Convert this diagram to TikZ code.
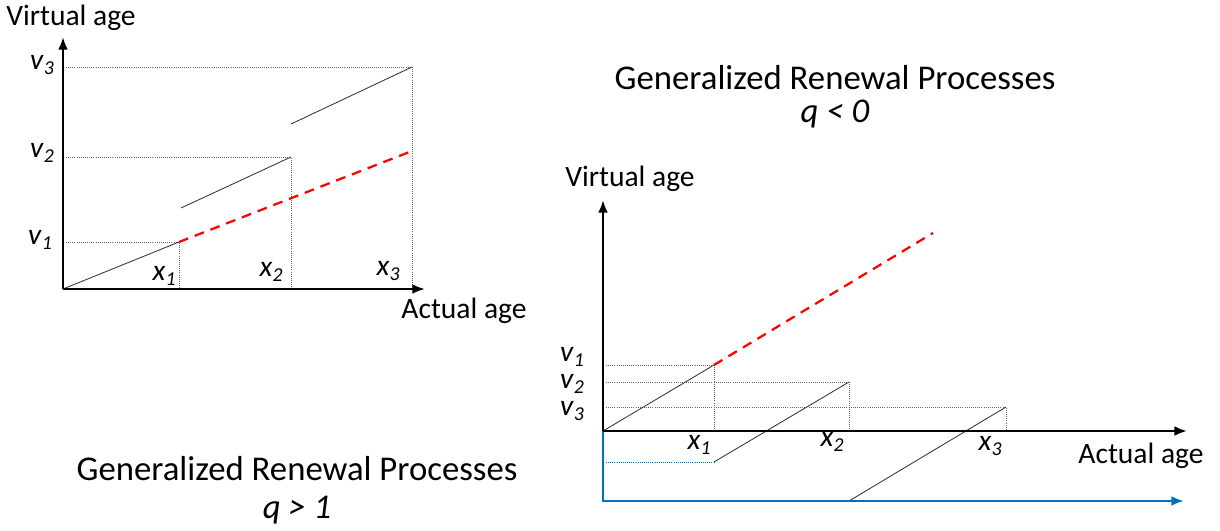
\documentclass[tikz,border=0pt]{standalone}
\usepackage{fontspec}
\setmainfont{Carlito}
\usetikzlibrary{arrows.meta}
\definecolor{officeblue}{RGB}{0,112,192}
\newcommand{\idx}[2]{\textit{#1}\raisebox{-0.4ex}{\fontsize{14}{14}\selectfont\textit{#2}}}
\begin{document}
\begin{tikzpicture}
[x=0.025cm,y=-0.025cm,
 every node/.style={inner sep=0pt},
 axis/.style={line width=1.7pt,-{Latex[length=9pt,width=7pt]}},
 guide/.style={gray!80!black,densely dotted,line width=0.5pt},
 segment/.style={gray!40!black,line width=0.6pt},
 ideal/.style={red,line width=1.6pt,dash pattern=on 7pt off 5pt},
 lab/.style={font=\fontsize{21}{24}\selectfont},
 title/.style={font=\fontsize{24.7}{28}\selectfont}]
\useasboundingbox (0,0) rectangle (1220,531);
% q > 1
\coordinate (o) at (63,289);
\coordinate (ytop) at (63,37);
\coordinate (xend) at (425,289);
\coordinate (p1) at (179,242);
\coordinate (q1) at (181,208);
\coordinate (p2) at (291,157);
\coordinate (q2) at (291,124);
\coordinate (p3) at (412,67);
\coordinate (r3) at (412,151);
\draw[guide] (66,242) -- (p1) -- (179,289);
\draw[guide] (66,157) -- (p2) -- (291,289);
\draw[guide] (66,67) -- (p3) -- (412,289);
\draw[segment] (o) -- (p1);
\draw[segment] (q1) -- (p2);
\draw[segment] (q2) -- (p3);
\draw[ideal] (p1) -- (r3);
\draw[axis] (o) -- (ytop);
\draw[axis] (o) -- (xend);
\node[lab] (yl) at (71,18) {Virtual age};
\node[lab] (xl) at (464,311) {Actual age};
\node[lab] (v1) at (40,240) {\idx{v}{1}};
\node[lab] (v2) at (42,153) {\idx{v}{2}};
\node[lab] (v3) at (42,65) {\idx{v}{3}};
\node[lab] (x1) at (164,276) {\idx{x}{1}};
\node[lab] (x2) at (271,272) {\idx{x}{2}};
\node[lab] (x3) at (388,271) {\idx{x}{3}};
\node[title] (t1) at (297,469) {Generalized Renewal Processes};
\node[title] (s1) at (297,510) {\textit{q > 1}};
% q < 0
\coordinate (O) at (603,431);
\coordinate (Ytop) at (603,200);
\coordinate (Xend) at (1187,431);
\coordinate (B) at (603,501);
\coordinate (Bend) at (1184,501);
\coordinate (P1) at (714,365);
\coordinate (Q1) at (714,462);
\coordinate (P2) at (849,382);
\coordinate (Q2) at (849,501);
\coordinate (P3) at (1006,407);
\coordinate (R1) at (933,233);
\draw[guide] (606,365) -- (P1) -- (714,431);
\draw[guide] (606,382) -- (P2) -- (849,431);
\draw[guide] (606,407) -- (P3) -- (1006,431);
\draw[officeblue,densely dotted,line width=0.5pt] (606,462) -- (Q1);
\draw[segment] (O) -- (P1);
\draw[segment] (Q1) -- (P2);
\draw[segment] (Q2) -- (P3);
\draw[ideal] (P1) -- (R1);
\draw[officeblue,line width=1.7pt,-{Latex[length=9pt,width=7pt]}] (O) -- (B) -- (Bend);
\draw[axis] (O) -- (Ytop);
\draw[axis] (O) -- (Xend);
\node[lab] (Yl) at (630,179) {Virtual age};
\node[lab] (Xl) at (1141,456) {Actual age};
\node[lab] (V1) at (572,357) {\idx{v}{1}};
\node[lab] (V2) at (572,384) {\idx{v}{2}};
\node[lab] (V3) at (572,411) {\idx{v}{3}};
\node[lab] (X1) at (699,445) {\idx{x}{1}};
\node[lab] (X2) at (832,442) {\idx{x}{2}};
\node[lab] (X3) at (990,446) {\idx{x}{3}};
\node[title] (t2) at (835,78) {Generalized Renewal Processes};
\node[title] (s2) at (835,114) {\textit{q < 0}};
\end{tikzpicture}
\end{document}
